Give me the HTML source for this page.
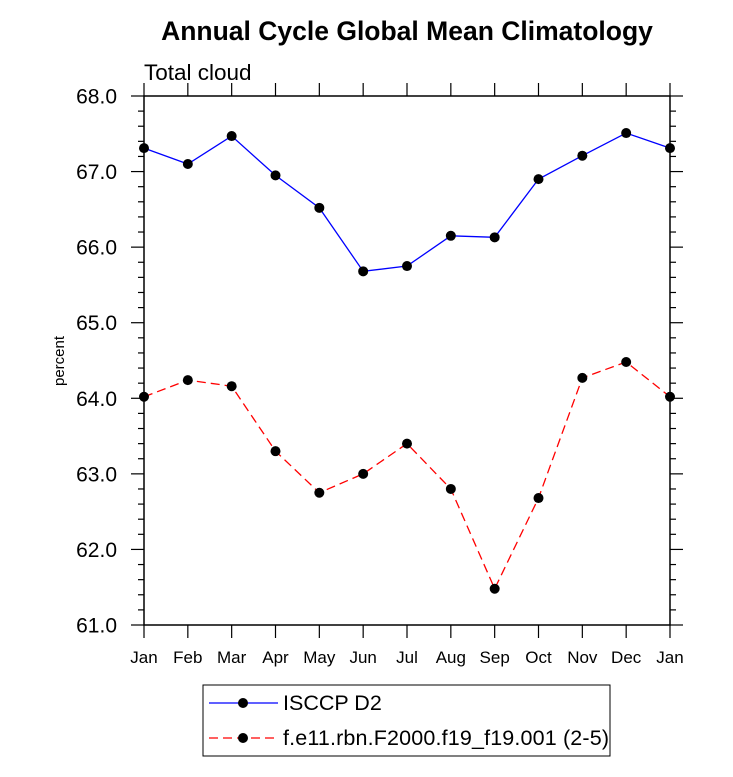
<!DOCTYPE html>
<html><head><meta charset="utf-8"><style>
body{margin:0;background:#fff;}
svg{display:block;font-family:"Liberation Sans",sans-serif;}
</style></head><body>
<svg id="chart" width="733" height="777">
<text x="407" y="40" text-anchor="middle" font-size="26.5" font-weight="bold">Annual Cycle Global Mean Climatology</text>
<text x="144" y="80" font-size="22.5">Total cloud</text>
<text transform="translate(64,361) rotate(-90)" text-anchor="middle" font-size="15">percent</text>
<g id="axes"></g>
<g id="series"></g>
<g>
<rect x="203" y="685" width="407" height="71" fill="#fff" stroke="#000" stroke-width="1"/>
<line x1="209" y1="703" x2="278" y2="703" stroke="#00f" stroke-width="1.3"/>
<circle cx="243" cy="703" r="5" fill="#000"/>
<text x="283" y="710" font-size="21.5">ISCCP D2</text>
<line x1="209" y1="738" x2="278" y2="738" stroke="#f00" stroke-width="1.3" stroke-dasharray="9,5"/>
<circle cx="243" cy="738" r="5" fill="#000"/>
<text x="283" y="745" font-size="21.5" textLength="326">f.e11.rbn.F2000.f19_f19.001 (2-5)</text>
</g>
</svg>
<script>
const months = ["Jan","Feb","Mar","Apr","May","Jun","Jul","Aug","Sep","Oct","Nov","Dec","Jan"];
const isccp = [67.31,67.10,67.47,66.95,66.52,65.68,65.75,66.15,66.13,66.90,67.21,67.51,67.31];
const model = [64.02,64.24,64.16,63.30,62.75,63.00,63.40,62.80,61.48,62.68,64.27,64.48,64.02];
const yTicks = [61,62,63,64,65,66,67,68];
const yLabels = ["61.0","62.0","63.0","64.0","65.0","66.0","67.0","68.0"];

const L=144,R=670,T=96,B=625,ymin=61,ymax=68;
const NS="http://www.w3.org/2000/svg";
function xs(i){return L+(R-L)*i/(months.length-1);}
function ys(v){return B-(v-ymin)/(ymax-ymin)*(B-T);}
function mk(tag,attrs,parent){const e=document.createElementNS(NS,tag);for(const k in attrs)e.setAttribute(k,attrs[k]);parent.appendChild(e);return e;}
const ax=document.getElementById('axes');
const frame=mk('rect',{x:L,y:T,width:R-L,height:B-T,fill:'none',stroke:'#000','stroke-width':1.5},ax);


for(let i=0;i<months.length;i++){
  const x=xs(i);
  mk('line',{x1:x,y1:B,x2:x,y2:B+13,stroke:'#000','stroke-width':1.2},ax);
  mk('line',{x1:x,y1:T,x2:x,y2:T-13,stroke:'#000','stroke-width':1.2},ax);
  const t=mk('text',{x:x,y:B+38,'text-anchor':'middle','font-size':17},ax);
  t.textContent=months[i];
  
  
}
for(let v=ymin;v<=ymax+1e-9;v+=0.2){
  const y=ys(v);const major=Math.abs(v-Math.round(v))<1e-6;const len=major?13:6;
  mk('line',{x1:L,y1:y,x2:L-len,y2:y,stroke:'#000','stroke-width':1.2},ax);
  mk('line',{x1:R,y1:y,x2:R+len,y2:y,stroke:'#000','stroke-width':1.2},ax);
}
yTicks.forEach((v,i)=>{
  const t=mk('text',{x:L-27,y:ys(v)+7.5,'text-anchor':'end','font-size':21},ax);
  t.textContent=yLabels[i];
  
  
});
const sg=document.getElementById('series');
function draw(vals,color,dash,name){
  const pts=vals.map((v,i)=>xs(i)+','+ys(v)).join(' ');
  const pl=mk('polyline',{points:pts,fill:'none',stroke:color,'stroke-width':1.3},sg);
  if(dash)pl.setAttribute('stroke-dasharray',dash);
  
  
  vals.forEach((v,i)=>{
    const c=mk('circle',{cx:xs(i),cy:ys(v),r:5,fill:'#000'},sg);
    
    
  });
}
draw(isccp,'#00f',null,'isccp');
draw(model,'#f00','9,5','model');
</script>
</body></html>
